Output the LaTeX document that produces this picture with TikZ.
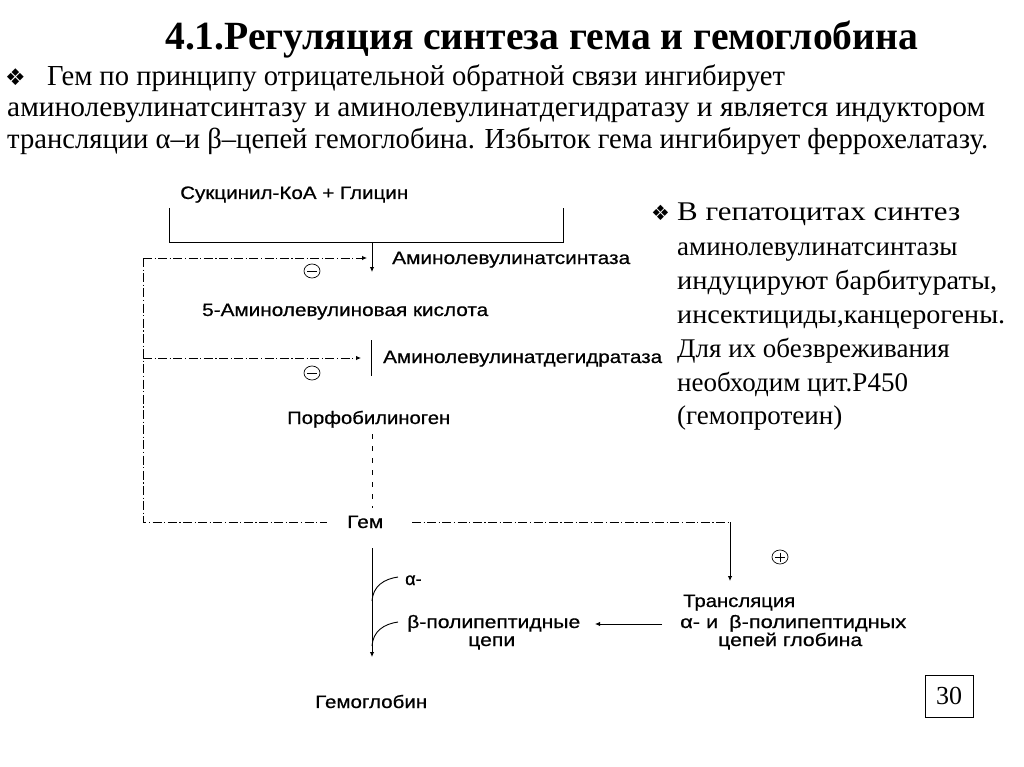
\documentclass[tikz,border=0pt]{standalone}
\usepackage{fontspec}
\setmainfont{Liberation Serif}
\newfontfamily\dsans{Liberation Sans}[FakeBold=0.6]
\newfontfamily\dejavu{DejaVu Sans}
\usetikzlibrary{arrows.meta,shapes.geometric}
\newcommand{\fw}[2]{\resizebox{#1}{\height}{#2}}
\begin{document}
\begin{tikzpicture}[x=1pt,y=-1pt,
  lbl/.style={anchor=base west, inner sep=0pt, font=\dsans\fontsize{18}{20}\selectfont},
  body/.style={anchor=base west, inner sep=0pt, font=\fontsize{29}{32}\selectfont},
  rtext/.style={anchor=base west, inner sep=0pt, font=\fontsize{27}{30}\selectfont},
  bul/.style={anchor=base west, inner sep=0pt, font=\dejavu\fontsize{23}{26}\selectfont},
  conn/.style={line width=0.9pt, black},
  dashdot/.style={conn, dash pattern=on 9pt off 2.5pt on 1.2pt off 2.5pt},
  dotted dash/.style={conn, dash pattern=on 5pt off 7pt},
  tip/.style={-{Latex[length=5pt,width=4.5pt]}},
  sign/.style={ellipse, draw, line width=0.7pt, minimum width=16pt, minimum height=14pt, inner sep=0pt},
  minus sign/.style={sign, path picture={\draw[line width=0.7pt] ([xshift=3pt]path picture bounding box.west) -- ([xshift=-3pt]path picture bounding box.east);}},
  plus sign/.style={sign, path picture={\draw[line width=0.7pt] ([xshift=3pt]path picture bounding box.west) -- ([xshift=-3pt]path picture bounding box.east) ([yshift=-2.5pt]path picture bounding box.north) -- ([yshift=2.5pt]path picture bounding box.south);}}
]
\useasboundingbox (0,0) rectangle (1024,767);
\fill[white] (0,0) rectangle (1024,767);

% title and header text
\node[anchor=base west, inner sep=0pt, font=\bfseries\fontsize{40}{42}\selectfont] (title) at (165,50)
  {\fw{753pt}{4.1.Регуляция синтеза гема и гемоглобина}};
\node[bul] (b1) at (5,86) {❖};
\node[body] (l1) at (47,86) {\fw{738pt}{Гем по принципу отрицательной обратной связи ингибирует}};
\node[body] (l2) at (7,117) {\fw{978pt}{аминолевулинатсинтазу и аминолевулинатдегидратазу и является индуктором}};
\node[body] (l3) at (7,149) {\fw{981pt}{трансляции α–и β–цепей гемоглобина. Избыток гема ингибирует феррохелатазу.}};

% right text
\node[bul, font=\dejavu\fontsize{21}{24}\selectfont] (b2) at (651,221) {❖};
\node[rtext] (r1) at (677,221) {\fw{283pt}{В гепатоцитах синтез}};
\node[rtext] (r2) at (677,255) {аминолевулинатсинтазы};
\node[rtext] (r3) at (677,289) {\fw{320pt}{индуцируют барбитураты,}};
\node[rtext] (r4) at (677,323) {\fw{328pt}{инсектициды,канцерогены.}};
\node[rtext] (r5) at (677,357) {Для их обезвреживания};
\node[rtext] (r6) at (677,391) {необходим цит.P450};
\node[rtext] (r7) at (677,424) {(гемопротеин)};

% diagram labels
\node[lbl] (sg) at (180,199) {\fw{228pt}{Сукцинил-КоА + Глицин}};
\node[lbl] (als) at (392,264) {\fw{238pt}{Аминолевулинатсинтаза}};
\node[lbl] (ala) at (202,316) {\fw{286pt}{5-Аминолевулиновая кислота}};
\node[lbl] (ald) at (383,363) {\fw{279pt}{Аминолевулинатдегидратаза}};
\node[lbl] (pbg) at (287,424) {\fw{163pt}{Порфобилиноген}};
\node[lbl] (hem) at (347,528) {\fw{36pt}{Гем}};
\node[lbl] (alpha) at (405,585) {α-};
\node[lbl] (beta) at (407,628) {\fw{173pt}{β-полипептидные}};
\node[lbl] (cepi) at (468,646) {\fw{47pt}{цепи}};
\node[lbl] (tr1) at (683,607) {\fw{112pt}{Трансляция}};
\node[lbl] (tr2) at (680,628) {\fw{226pt}{α- и\enspace β-полипептидных}};
\node[lbl] (tr3) at (718,646) {\fw{144pt}{цепей глобина}};
\node[lbl] (hb) at (315,708) {\fw{112pt}{Гемоглобин}};

% signs
\node[minus sign] (s1) at (312,271) {};
\node[minus sign] (s2) at (312,373) {};
\node[plus sign] (s3) at (780,557) {};

% connectors
\coordinate (bl) at (169,208);
\coordinate (bl2) at (169,242);
\coordinate (br) at (563,208);
\coordinate (br2) at (563,242);
\coordinate (bm) at (372,242);
\coordinate (a1e) at (372,272);
\draw[conn] (bl) -- (bl2) -- (br2) -- (br);
\draw[conn,tip] (bm) -- (a1e);

\coordinate (fb1) at (143,258);
\coordinate (fb1e) at (367,258);
\coordinate (fb2) at (143,358);
\coordinate (fb2e) at (361,358);
\coordinate (fbc) at (143,522);
\coordinate (hL) at (327,522);
\draw[dashdot,tip] (fb1) -- (fb1e);
\draw[dashdot,tip] (fb2) -- (fb2e);
\draw[dashdot,line width=0.7pt] (fb1) -- (fbc) -- (hL);

\coordinate (e2t) at (371,340);
\coordinate (e2b) at (371,376);
\draw[conn] (e2t) -- (e2b);

\coordinate (pd1) at (372,434);
\coordinate (pd2) at (372,508);
\draw[dotted dash] (pd1) -- (pd2);

\coordinate (hR) at (412,522);
\coordinate (tc) at (730,522);
\coordinate (te) at (730,581);
\draw[dashdot] (hR) -- (tc);
\draw[conn,tip] (tc) -- (te);

\coordinate (ta1) at (662,624);
\coordinate (ta2) at (595,624);
\draw[conn,tip] (ta1) -- (ta2);

\coordinate (m1) at (372,548);
\coordinate (m2) at (372,657);
\draw[conn,tip] (m1) -- (m2);
\coordinate (c1s) at (372,601);
\coordinate (c1e) at (398,577);
\coordinate (c2s) at (372,646);
\coordinate (c2e) at (398,622);
\draw[conn] (c1s) .. controls (373,586) and (384,579) .. (c1e);
\draw[conn] (c2s) .. controls (373,631) and (384,624) .. (c2e);

% page number
\node[draw, line width=1pt, minimum width=48pt, minimum height=42pt, inner sep=0pt,
  font=\fontsize{26}{28}\selectfont] (pg) at (949,696) {30};
\end{tikzpicture}
\end{document}
